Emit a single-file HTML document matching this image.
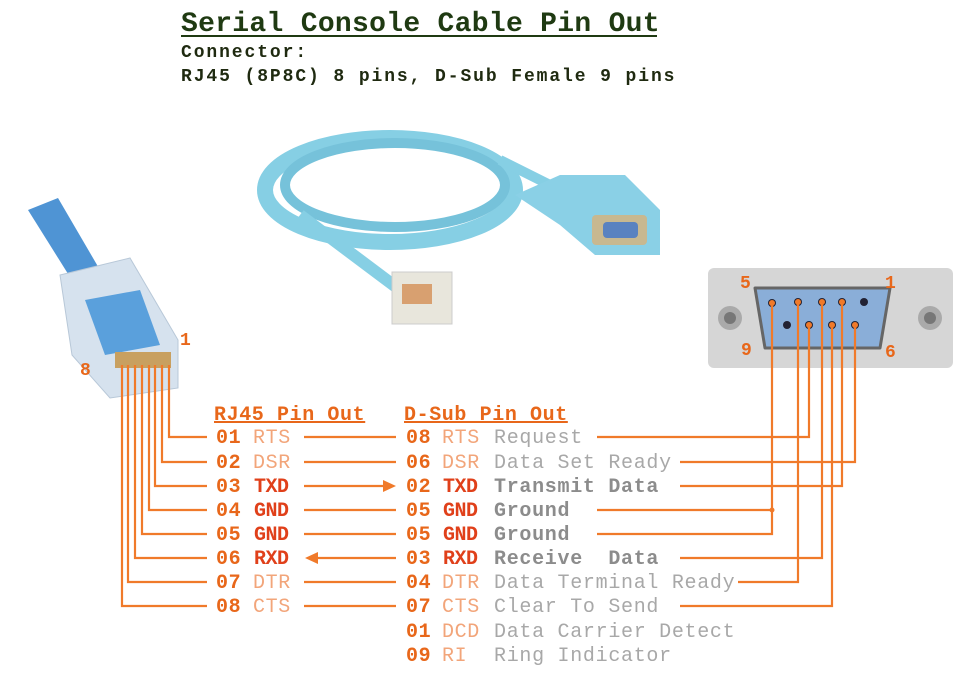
<!DOCTYPE html>
<html><head><meta charset="utf-8"><style>
html,body{margin:0;padding:0;background:#fff;width:970px;height:679px;overflow:hidden}
svg{display:block}
text{font-family:"Liberation Mono",monospace;white-space:pre}
.n{fill:#e8671a;font-weight:bold;font-size:20px;letter-spacing:0.6px}
.l{fill:#f2a57a;font-size:20px;letter-spacing:0.6px}
.r{fill:#e0401a;font-weight:bold;font-size:20px;letter-spacing:-0.5px}
.d{fill:#a8a8a8;font-size:20px;letter-spacing:0.7px}
.db{fill:#8c8c8c;font-weight:bold;font-size:20px;letter-spacing:0.7px}
.h{fill:#e8671a;font-weight:bold;font-size:20px;letter-spacing:0.6px;text-decoration:underline}
</style></head><body>
<svg width="970" height="679" viewBox="0 0 970 679" xmlns="http://www.w3.org/2000/svg">
<text x="181" y="31" style="font-size:28px;font-weight:bold;fill:#1f3a12;letter-spacing:0.3px">Serial Console Cable Pin Out</text>
<line x1="181" y1="36" x2="657" y2="36" stroke="#1f3a12" stroke-width="2"/>
<text x="181" y="57" style="font-size:18px;font-weight:bold;fill:#1f2a10;letter-spacing:1.9px">Connector:</text>
<text x="181" y="81" style="font-size:18px;font-weight:bold;fill:#1f2a10;letter-spacing:1.9px">RJ45 (8P8C) 8 pins, D-Sub Female 9 pins</text>

<ellipse cx="390" cy="190" rx="125" ry="52" fill="none" stroke="#86cfe4" stroke-width="16"/>
<ellipse cx="395" cy="185" rx="110" ry="42" fill="none" stroke="#76c2da" stroke-width="10"/>
<path d="M500 160 L560 190" stroke="#86cfe4" stroke-width="10"/>
<path d="M300 215 L400 290" stroke="#86cfe4" stroke-width="12"/>
<path d="M515 195 L560 175 L625 175 L660 210 L660 255 L595 255 L560 225 Z" fill="#8ad0e6"/>
<rect x="592" y="215" width="55" height="30" rx="4" fill="#c8b890"/>
<rect x="603" y="222" width="35" height="16" rx="4" fill="#5a82c0"/>
<rect x="392" y="272" width="60" height="52" fill="#e8e6dc" stroke="#ccc"/>
<rect x="402" y="284" width="30" height="20" fill="#d8a070"/>

<path d="M28 210 L58 198 L100 270 L75 285 Z" fill="#4f94d4"/>
<path d="M60 275 L130 258 L178 340 L178 388 L110 398 L72 355 Z" fill="#d6e2ee" stroke="#b8c8d8"/>
<path d="M85 300 L140 290 L160 345 L105 355 Z" fill="#5aa0dc"/>
<rect x="115" y="352" width="56" height="16" fill="#c8a060"/>
<text x="180" y="345" class="n" style="font-size:18px">1</text>
<text x="80" y="375" class="n" style="font-size:18px">8</text>

<rect x="708" y="268" width="245" height="100" rx="6" fill="#d6d6d6"/>
<circle cx="730" cy="318" r="12" fill="#aaa"/><circle cx="730" cy="318" r="6" fill="#777"/>
<circle cx="930" cy="318" r="12" fill="#aaa"/><circle cx="930" cy="318" r="6" fill="#777"/>
<path d="M755 288 L890 288 L880 348 L765 348 Z" fill="#8aaed8" stroke="#666" stroke-width="3" stroke-linejoin="round"/>
<g fill="#223">
<circle cx="772" cy="303" r="4"/><circle cx="798" cy="302" r="4"/><circle cx="822" cy="302" r="4"/><circle cx="842" cy="302" r="4"/><circle cx="864" cy="302" r="4"/>
<circle cx="787" cy="325" r="4"/><circle cx="809" cy="325" r="4"/><circle cx="832" cy="325" r="4"/><circle cx="855" cy="325" r="4"/>
</g>
<text x="740" y="288" class="n" style="font-size:18px">5</text>
<text x="885" y="288" class="n" style="font-size:18px">1</text>
<text x="741" y="355" class="n" style="font-size:18px">9</text>
<text x="885" y="357" class="n" style="font-size:18px">6</text>

<g stroke="#f07a2a" stroke-width="2.2" fill="none">
<path d="M169 365 V437 H207"/>
<path d="M162 365 V462 H207"/>
<path d="M155 365 V486 H207"/>
<path d="M149 365 V510 H207"/>
<path d="M142 365 V534 H207"/>
<path d="M135 365 V558 H207"/>
<path d="M128 365 V582 H207"/>
<path d="M122 365 V606 H207"/>
<path d="M304 437 H396"/><path d="M304 462 H396"/><path d="M304 486 H385"/>
<path d="M304 510 H396"/><path d="M304 534 H396"/><path d="M315 558 H396"/>
<path d="M304 582 H396"/><path d="M304 606 H396"/>
<path d="M597 437 H809 V325"/>
<path d="M680 462 H855 V325"/>
<path d="M680 486 H842 V302"/>
<path d="M597 510 H772"/>
<path d="M597 534 H772 V303"/>
<path d="M680 558 H822 V302"/>
<path d="M738 582 H798 V302"/>
<path d="M680 606 H832 V325"/>
</g>
<circle cx="772" cy="510" r="2.5" fill="#f07a2a"/>
<path d="M396 486 L383 480 L383 492 Z" fill="#f07a2a"/>
<path d="M305 558 L318 552 L318 564 Z" fill="#f07a2a"/>
<g fill="#f07a2a"><circle cx="772" cy="303" r="3"/><circle cx="798" cy="302" r="3"/><circle cx="822" cy="302" r="3"/><circle cx="842" cy="302" r="3"/><circle cx="809" cy="325" r="3"/><circle cx="832" cy="325" r="3"/><circle cx="855" cy="325" r="3"/></g>

<text x="214" y="420" class="h">RJ45 Pin Out</text>
<text x="404" y="420" class="h">D-Sub Pin Out</text>

<text x="216" y="443" class="n">01</text><text x="253" y="443" class="l">RTS</text>
<text x="216" y="468" class="n">02</text><text x="253" y="468" class="l">DSR</text>
<text x="216" y="492" class="n">03</text><text x="254" y="492" class="r">TXD</text>
<text x="216" y="516" class="n">04</text><text x="254" y="516" class="r">GND</text>
<text x="216" y="540" class="n">05</text><text x="254" y="540" class="r">GND</text>
<text x="216" y="564" class="n">06</text><text x="254" y="564" class="r">RXD</text>
<text x="216" y="588" class="n">07</text><text x="253" y="588" class="l">DTR</text>
<text x="216" y="612" class="n">08</text><text x="253" y="612" class="l">CTS</text>

<text x="406" y="443" class="n">08</text><text x="442" y="443" class="l">RTS</text><text x="494" y="443" class="d">Request</text>
<text x="406" y="468" class="n">06</text><text x="442" y="468" class="l">DSR</text><text x="494" y="468" class="d">Data Set Ready</text>
<text x="406" y="492" class="n">02</text><text x="443" y="492" class="r">TXD</text><text x="494" y="492" class="db">Transmit Data</text>
<text x="406" y="516" class="n">05</text><text x="443" y="516" class="r">GND</text><text x="494" y="516" class="db">Ground</text>
<text x="406" y="540" class="n">05</text><text x="443" y="540" class="r">GND</text><text x="494" y="540" class="db">Ground</text>
<text x="406" y="564" class="n">03</text><text x="443" y="564" class="r">RXD</text><text x="494" y="564" class="db">Receive&#160;&#160;Data</text>
<text x="406" y="588" class="n">04</text><text x="442" y="588" class="l">DTR</text><text x="494" y="588" class="d">Data Terminal Ready</text>
<text x="406" y="612" class="n">07</text><text x="442" y="612" class="l">CTS</text><text x="494" y="612" class="d">Clear To Send</text>
<text x="406" y="637" class="n">01</text><text x="442" y="637" class="l">DCD</text><text x="494" y="637" class="d">Data Carrier Detect</text>
<text x="406" y="661" class="n">09</text><text x="442" y="661" class="l">RI</text><text x="494" y="661" class="d">Ring Indicator</text>
</svg>
</body></html>
